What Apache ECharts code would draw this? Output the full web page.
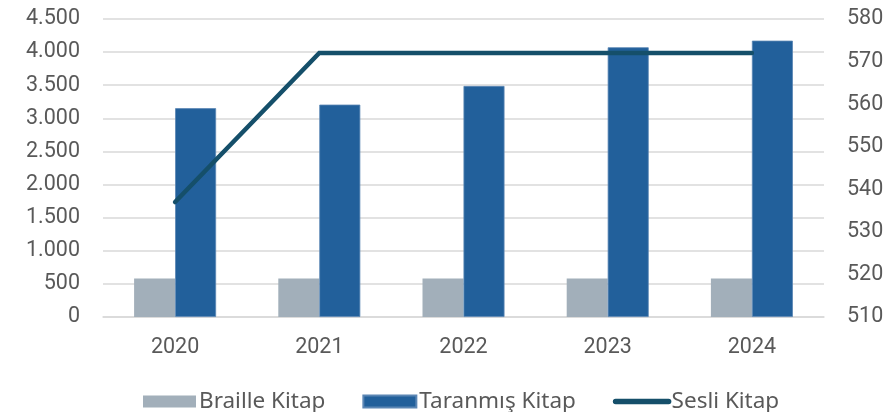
<!DOCTYPE html>
<html>
<head>
<meta charset="utf-8">
<script src="https://cdn.jsdelivr.net/npm/echarts@6/dist/echarts.min.js"></script>
<style>html,body{margin:0;padding:0;background:#fff}#c{width:896px;height:412px}</style>
</head>
<body>
<div id="c"></div>
<script>
const categories = ['2020', '2021', '2022', '2023', '2024'];
const brailleKitap = [582, 582, 582, 582, 582];
const taranmisKitap = [3153, 3207, 3489, 4073, 4173];
const sesliKitap = [537, 572, 572, 572, 572];
const leftTicks = { min: 0, max: 4500, interval: 500 };
const rightTicks = { min: 510, max: 580, interval: 10 };

const fmt = v => String(v).replace(/\B(?=(\d{3})+(?!\d))/g, '.');
const labelStyle = { color: '#595959', fontSize: 21.5, fontFamily: 'Roboto' };

const chart = echarts.init(document.getElementById('c'));
chart.setOption({
  animation: false,
  grid: { left: 103, right: 72, top: 19, bottom: 95, containLabel: false },
  legend: {
    left: 143, top: 390, padding: 0,
    itemWidth: 53, itemHeight: 12, itemGap: 37,
    textStyle: { color: '#595959', fontSize: 22.5, lineHeight: 22, fontFamily: 'Noto Sans', padding: [0, 0, 0, -2] },
    data: [
      { name: 'Braille Kitap', icon: 'rect' },
      { name: 'Taranmış Kitap', icon: 'rect' },
      { name: 'Sesli Kitap', itemStyle: { opacity: 0 }, lineStyle: { width: 5.5, cap: 'round', color: '#154f6a' } }
    ]
  },
  xAxis: {
    type: 'category', data: categories,
    axisLine: { lineStyle: { color: '#d9d9d9', width: 1.5 } },
    axisTick: { show: false },
    axisLabel: Object.assign({ margin: 20 }, labelStyle)
  },
  yAxis: [
    {
      type: 'value', min: leftTicks.min, max: leftTicks.max, interval: leftTicks.interval,
      axisLabel: Object.assign({ margin: 23, formatter: fmt }, labelStyle),
      splitLine: { lineStyle: { color: '#d9d9d9', width: 1.5 } },
      axisLine: { show: false }, axisTick: { show: false }
    },
    {
      type: 'value', min: rightTicks.min, max: rightTicks.max, interval: rightTicks.interval,
      axisLabel: Object.assign({ margin: 23 }, labelStyle),
      splitLine: { show: false },
      axisLine: { show: false }, axisTick: { show: false }
    }
  ],
  series: [
    {
      name: 'Braille Kitap', type: 'bar', data: brailleKitap,
      barWidth: 41, barGap: '0%',
      itemStyle: { color: '#a2afba' }
    },
    {
      name: 'Taranmış Kitap', type: 'bar', data: taranmisKitap,
      barWidth: 41, barGap: '0%',
      itemStyle: { color: '#22609b', borderColor: '#5b86b4', borderWidth: 0.8 }
    },
    {
      name: 'Sesli Kitap', type: 'line', yAxisIndex: 1, data: sesliKitap,
      symbol: 'none',
      lineStyle: { color: '#154f6a', width: 4.5, cap: 'round', join: 'miter' },
      itemStyle: { color: '#154f6a' },
      z: 5
    }
  ]
});
</script>
</body>
</html>
